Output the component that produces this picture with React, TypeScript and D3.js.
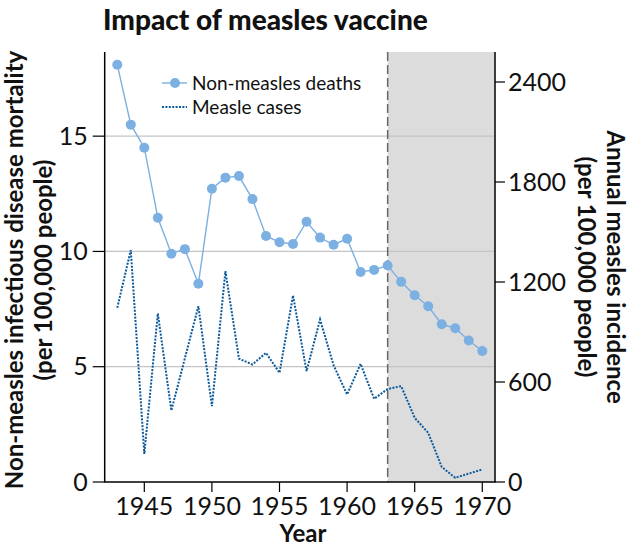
import React from 'react';
import * as d3 from 'd3';

const years = [
  1943, 1944, 1945, 1946, 1947, 1948, 1949, 1950, 1951, 1952, 1953, 1954, 1955, 1956,
  1957, 1958, 1959, 1960, 1961, 1962, 1963, 1964, 1965, 1966, 1967, 1968, 1969, 1970
];
const deaths = [
  18.1, 15.5, 14.5, 11.46, 9.9, 10.1, 8.6, 12.72, 13.2, 13.27, 12.27, 10.67, 10.4, 10.32,
  11.29, 10.6, 10.29, 10.55, 9.11, 9.2, 9.39, 8.68, 8.1, 7.62, 6.84, 6.67, 6.14, 5.68
];
const measles = [
  1045, 1391, 168, 1011, 429, 742, 1055, 455, 1265, 740, 705, 775, 655, 1119,
  665, 975, 700, 525, 709, 499, 558, 575, 385, 295, 90, 25, 50, 75
];
const xTicks = [1945, 1950, 1955, 1960, 1965, 1970];
const leftTicks = [0, 5, 10, 15];
const rightTicks = [0, 600, 1200, 1800, 2400];
const vaccineYear = 1963;

const W = 631;
const H = 548;
const m = { l: 104.7, r: 495, t: 52, b: 482 };
const font = 'Lato, "DejaVu Sans", sans-serif';
const lightBlue = '#7cb0e2';
const darkBlue = '#0b5a9c';

const App = () => {
  const x = d3.scaleLinear().domain([1942.07, 1970.94]).range([m.l, m.r]);
  const yL = d3.scaleLinear().domain([0, 18.65]).range([m.b, m.t]);
  const yR = d3.scaleLinear().domain([0, 2580]).range([m.b, m.t]);

  const deathLine = d3
    .line<number>()
    .x((d, i) => x(years[i]))
    .y(d => yL(d))(deaths);
  const measleLine = d3
    .line<number>()
    .x((d, i) => x(years[i]))
    .y(d => yR(d))(measles);

  return (
    <svg
      width={W}
      height={H}
      style={{ position: 'absolute', left: 0, top: 0, fontFamily: font }}
    >
      <rect x={0} y={0} width={W} height={H} fill="#fff" />
      <text x={103} y={30} fontSize={28} fontWeight={900} fill="#111">
        Impact of measles vaccine
      </text>

      {/* shaded post-vaccine period */}
      <rect
        x={x(vaccineYear)}
        y={m.t}
        width={m.r - x(vaccineYear)}
        height={m.b - m.t}
        fill="#dcdcdc"
      />

      {/* grid lines from left axis */}
      {leftTicks.filter(t => t > 0).map(t => (
        <line key={t} x1={m.l} x2={m.r} y1={yL(t)} y2={yL(t)} stroke="#c4c4c4" strokeWidth={1.2} />
      ))}

      <line
        x1={x(vaccineYear)}
        x2={x(vaccineYear)}
        y1={m.t}
        y2={m.b}
        stroke="#666"
        strokeWidth={1.5}
        strokeDasharray="9,4"
      />

      <path d={measleLine || ''} fill="none" stroke={darkBlue} strokeWidth={2} strokeDasharray="2,1.4" />
      <path d={deathLine || ''} fill="none" stroke={lightBlue} strokeWidth={1.4} />
      {deaths.map((d, i) => (
        <circle key={i} cx={x(years[i])} cy={yL(d)} r={5} fill={lightBlue} />
      ))}

      {/* spines */}
      <line x1={m.l} x2={m.l} y1={m.t} y2={m.b} stroke="#000" strokeWidth={1.5} />
      <line x1={m.r} x2={m.r} y1={m.t} y2={m.b} stroke="#000" strokeWidth={1.5} />
      <line x1={m.l - 0.75} x2={m.r + 0.75} y1={m.b} y2={m.b} stroke="#000" strokeWidth={1.5} />

      {xTicks.map(t => (
        <g key={t}>
          <line x1={x(t)} x2={x(t)} y1={m.b} y2={m.b + 10} stroke="#000" strokeWidth={1.2} />
          <text x={x(t)} y={515} textAnchor="middle" fontSize={25} fill="#111">
            {t}
          </text>
        </g>
      ))}
      {leftTicks.map(t => (
        <g key={t}>
          <line x1={m.l - 12} x2={m.l} y1={yL(t)} y2={yL(t)} stroke="#000" strokeWidth={1.2} />
          <text x={m.l - 17} y={yL(t)} dy="0.35em" textAnchor="end" fontSize={25} fill="#111">
            {t}
          </text>
        </g>
      ))}
      {rightTicks.map(t => (
        <g key={t}>
          <line x1={m.r} x2={m.r + 10} y1={yR(t)} y2={yR(t)} stroke="#000" strokeWidth={1.2} />
          <text x={m.r + 13} y={yR(t)} dy="0.35em" textAnchor="start" fontSize={25} fill="#111">
            {t}
          </text>
        </g>
      ))}

      <text x={303} y={542} textAnchor="middle" fontSize={24} fontWeight={700} fill="#111">
        Year
      </text>

      <g transform="translate(23, 270) rotate(-90)">
        <text textAnchor="middle" fontSize={24} fontWeight={700} fill="#111">
          Non-measles infectious disease mortality
        </text>
        <text y={29} textAnchor="middle" fontSize={24} fontWeight={700} fill="#111">
          (per 100,000 people)
        </text>
      </g>
      <g transform="translate(607, 267) rotate(90)">
        <text textAnchor="middle" fontSize={24} fontWeight={700} fill="#111">
          Annual measles incidence
        </text>
        <text y={29} textAnchor="middle" fontSize={24} fontWeight={700} fill="#111">
          (per 100,000 people)
        </text>
      </g>

      {/* legend */}
      <g>
        <line x1={162} x2={187} y1={83} y2={83} stroke={lightBlue} strokeWidth={1.4} />
        <circle cx={175} cy={83} r={5} fill={lightBlue} />
        <text x={192} y={83} dy="0.35em" fontSize={19} fill="#111">
          Non-measles deaths
        </text>
        <line x1={162} x2={187} y1={107} y2={107} stroke={darkBlue} strokeWidth={2} strokeDasharray="2,1.4" />
        <text x={192} y={107} dy="0.35em" fontSize={19} fill="#111">
          Measle cases
        </text>
      </g>
    </svg>
  );
};

export default App;
